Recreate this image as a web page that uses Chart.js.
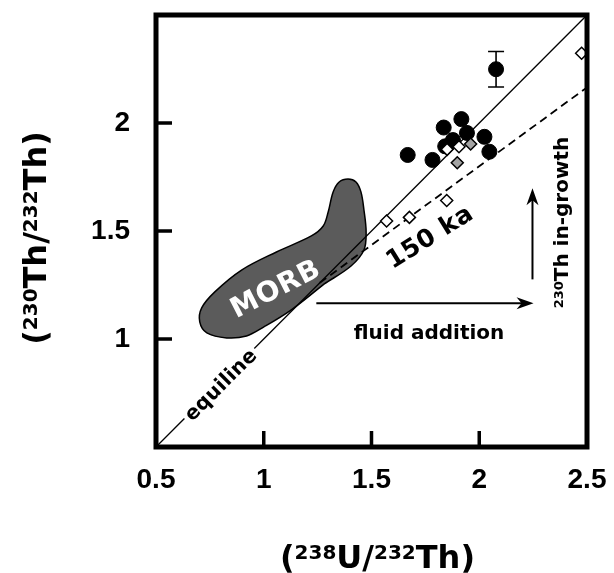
<!DOCTYPE html>
<html lang="en">
<head>
  <meta charset="UTF-8">
  <title>Equiline diagram</title>
  <script src="https://cdn.jsdelivr.net/npm/chart.js"></script>
  <style>
    html, body { margin: 0; padding: 0; background: #fff; }
    canvas { display: block; }
  </style>
</head>
<body>
  <canvas id="chart" width="614" height="573"></canvas>

  <script>
    // axis ticks
    const xTicks = [0.5, 1, 1.5, 2, 2.5];
    const yTicks = [1, 1.5, 2];

    // reference lines
    const equilineX = [0.5, 2.5];
    const equilineY = [0.5, 2.5];
    const isoX = [1.26, 2.5];      // 150 ka isochron
    const isoY = [1.26, 2.165];

    // samples (filled circles)
    const circleX = [1.668, 1.783, 1.835, 1.917, 1.878, 1.943, 2.024, 2.047, 1.842, 2.078];
    const circleY = [1.852, 1.829, 1.979, 2.018, 1.921, 1.954, 1.936, 1.867, 1.892, 2.249];
    const errX = [2.078];
    const errY = [2.249];
    const errSize = [0.082];

    // diamonds
    const openX = [1.570, 1.676, 1.849, 1.851, 1.906, 2.475];
    const openY = [1.546, 1.563, 1.641, 1.878, 1.890, 2.323];
    const grayX = [1.960, 1.898];
    const grayY = [1.903, 1.816];

    // MORB field outline
    const morbX = [1.281, 1.128, 0.999, 0.920, 0.828, 0.736, 0.703, 0.712, 0.773, 0.897, 1.059, 1.221, 1.276, 1.299, 1.322, 1.350, 1.391, 1.428, 1.451, 1.465, 1.475, 1.465, 1.405, 1.281];
    const morbY = [1.255, 1.135, 1.055, 1.014, 1.005, 1.028, 1.079, 1.144, 1.218, 1.319, 1.403, 1.477, 1.523, 1.588, 1.681, 1.727, 1.741, 1.727, 1.681, 1.597, 1.495, 1.412, 1.338, 1.255];

    const pts = (xs, ys) => xs.map((x, i) => ({ x: x, y: ys[i] }));

    const SANS = '"DejaVu Sans", sans-serif';

    function rotText(ctx, str, px, py, deg, size, color, spacing, bg) {
      ctx.save();
      ctx.translate(px, py);
      ctx.rotate(deg * Math.PI / 180);
      ctx.font = 'bold ' + size + 'px ' + SANS;
      ctx.letterSpacing = (spacing || 0) + 'px';
      ctx.textAlign = 'center';
      ctx.textBaseline = 'alphabetic';
      const w = ctx.measureText(str).width;
      if (bg) {
        ctx.fillStyle = '#fff';
        ctx.fillRect(-w / 2 - 3, -size * 0.45, w + 6, size * 0.9);
      }
      ctx.fillStyle = color;
      ctx.fillText(str, 0, size * 0.36);
      ctx.restore();
    }

    // text with superscripts, (px, py) = baseline centre
    function richText(ctx, parts, px, py, deg, size, supSize) {
      ctx.save();
      ctx.translate(px, py);
      ctx.rotate(deg * Math.PI / 180);
      ctx.textAlign = 'left';
      ctx.textBaseline = 'alphabetic';
      ctx.fillStyle = '#000';
      const fMain = 'bold ' + size + 'px ' + SANS;
      const fSup = 'bold ' + supSize + 'px ' + SANS;
      let total = 0;
      const widths = parts.map(p => {
        ctx.font = p[1] ? fSup : fMain;
        const w = ctx.measureText(p[0]).width;
        total += w;
        return w;
      });
      const raise = 0.729 * (size - supSize);
      let cx = -total / 2;
      parts.forEach((p, i) => {
        ctx.font = p[1] ? fSup : fMain;
        ctx.fillText(p[0], cx, p[1] ? -raise : 0);
        cx += widths[i];
      });
      ctx.restore();
    }

    function arrow(ctx, x0, y0, x1, y1) {
      const a = Math.atan2(y1 - y0, x1 - x0);
      ctx.beginPath();
      ctx.moveTo(x0, y0);
      ctx.lineTo(x1 - 10 * Math.cos(a), y1 - 10 * Math.sin(a));
      ctx.stroke();
      ctx.save();
      ctx.translate(x1, y1);
      ctx.rotate(a);
      ctx.beginPath();
      ctx.moveTo(0, 0);
      ctx.lineTo(-17, -6);
      ctx.lineTo(-12, 0);
      ctx.lineTo(-17, 6);
      ctx.closePath();
      ctx.fill();
      ctx.restore();
    }

    const decorations = {
      id: 'decorations',
      afterDatasetsDraw(chart) {
        const { ctx, chartArea: a, scales: { x, y } } = chart;
        ctx.save();
        ctx.strokeStyle = '#000';
        ctx.fillStyle = '#000';

        // error bar
        ctx.lineWidth = 1.6;
        errX.forEach((v, i) => {
          const px = x.getPixelForValue(v);
          const top = y.getPixelForValue(errY[i] + errSize[i]);
          const bot = y.getPixelForValue(errY[i] - errSize[i]);
          ctx.beginPath();
          ctx.moveTo(px, top); ctx.lineTo(px, bot);
          ctx.moveTo(px - 8, top); ctx.lineTo(px + 8, top);
          ctx.moveTo(px - 8, bot); ctx.lineTo(px + 8, bot);
          ctx.stroke();
        });

        // arrows
        ctx.lineWidth = 2;
        arrow(ctx, x.getPixelForValue(1.244), y.getPixelForValue(1.165), x.getPixelForValue(2.252), y.getPixelForValue(1.165));
        arrow(ctx, x.getPixelForValue(2.247), y.getPixelForValue(1.276), x.getPixelForValue(2.247), y.getPixelForValue(1.698));

        // frame and inward ticks
        ctx.lineWidth = 5;
        ctx.strokeRect(a.left, a.top, a.right - a.left, a.bottom - a.top);
        ctx.lineWidth = 3.5;
        ctx.beginPath();
        [1, 1.5, 2].forEach(v => {
          const px = x.getPixelForValue(v);
          ctx.moveTo(px, a.bottom); ctx.lineTo(px, a.bottom - 16);
        });
        yTicks.forEach(v => {
          const py = y.getPixelForValue(v);
          ctx.moveTo(a.left, py); ctx.lineTo(a.left + 16, py);
        });
        ctx.stroke();
        ctx.restore();

        // labels inside the plot
        rotText(ctx, 'MORB', x.getPixelForValue(1.051), y.getPixelForValue(1.238), -27, 28, '#fff', 0.5);
        rotText(ctx, '150 ka', x.getPixelForValue(1.767), y.getPixelForValue(1.478), -32, 25, '#000', 0.5);
        rotText(ctx, 'equiline', x.getPixelForValue(0.797), y.getPixelForValue(0.791), -45, 20, '#000', 0.3, true);

        ctx.save();
        ctx.font = 'bold 20px ' + SANS;
        ctx.fillStyle = '#000';
        ctx.textAlign = 'center';
        ctx.textBaseline = 'alphabetic';
        ctx.fillText('fluid addition', x.getPixelForValue(1.767), y.getPixelForValue(0.999));
        ctx.restore();

        richText(ctx, [['230', true], ['Th in-growth', false]],
          x.getPixelForValue(2.41), y.getPixelForValue(1.539), -90, 20, 13);

        // axis titles
        richText(ctx, [['(', false], ['238', true], ['U/', false], ['232', true], ['Th)', false]],
          (a.left + a.right) / 2 + 6, a.bottom + 121, 0, 32, 20);
        richText(ctx, [['(', false], ['230', true], ['Th/', false], ['232', true], ['Th)', false]],
          46, (a.top + a.bottom) / 2 + 7, -90, 32, 20);
      }
    };

    const tickFont = { family: '"Liberation Sans", Arial, sans-serif', size: 28, weight: 'bold' };

    new Chart(document.getElementById('chart'), {
      type: 'scatter',
      data: {
        datasets: [
          {
            label: 'open', data: pts(openX, openY), order: 0,
            pointStyle: 'rectRot', pointRadius: 6, backgroundColor: '#fff', borderColor: '#000', borderWidth: 1.5
          },
          {
            label: 'gray', data: pts(grayX, grayY), order: 0,
            pointStyle: 'rectRot', pointRadius: 6, backgroundColor: '#a3a3a3', borderColor: '#000', borderWidth: 1.5
          },
          {
            label: 'samples', data: pts(circleX, circleY), order: 1,
            pointRadius: 7.5, backgroundColor: '#000', borderColor: '#000', borderWidth: 1
          },
          {
            type: 'line', label: 'equiline', data: pts(equilineX, equilineY), order: 2,
            borderColor: '#000', borderWidth: 1.3, pointRadius: 0, fill: false
          },
          {
            type: 'line', label: '150 ka', data: pts(isoX, isoY), order: 2,
            borderColor: '#000', borderWidth: 1.8, borderDash: [8, 5], pointRadius: 0, fill: false
          },
          {
            type: 'line', label: 'MORB', data: pts(morbX, morbY), order: 3,
            borderColor: '#000', borderWidth: 1.5, backgroundColor: '#5b5b5b',
            fill: 'shape', tension: 0.35, pointRadius: 0
          }
        ]
      },
      options: {
        responsive: false,
        animation: false,
        events: [],
        layout: { padding: { top: 15, right: 27, bottom: 0, left: 0 } },
        plugins: { legend: { display: false }, tooltip: { enabled: false } },
        scales: {
          x: {
            type: 'linear', min: 0.5, max: 2.5,
            grid: { display: false, drawTicks: false },
            border: { display: false },
            ticks: { font: tickFont, color: '#000', padding: 16, autoSkip: false, maxRotation: 0, callback: v => String(v) },
            afterBuildTicks: s => { s.ticks = xTicks.map(v => ({ value: v })); },
            afterFit: s => { s.height = 126; s.paddingLeft = 0; s.paddingRight = 0; }
          },
          y: {
            type: 'linear', min: 0.5, max: 2.5,
            grid: { display: false, drawTicks: false },
            border: { display: false },
            ticks: { font: tickFont, color: '#000', padding: 26, autoSkip: false, callback: v => String(v) },
            afterBuildTicks: s => { s.ticks = yTicks.map(v => ({ value: v })); },
            afterFit: s => { s.width = 156; s.paddingTop = 0; s.paddingBottom = 0; }
          }
        }
      },
      plugins: [decorations]
    });
  </script>
</body>
</html>
